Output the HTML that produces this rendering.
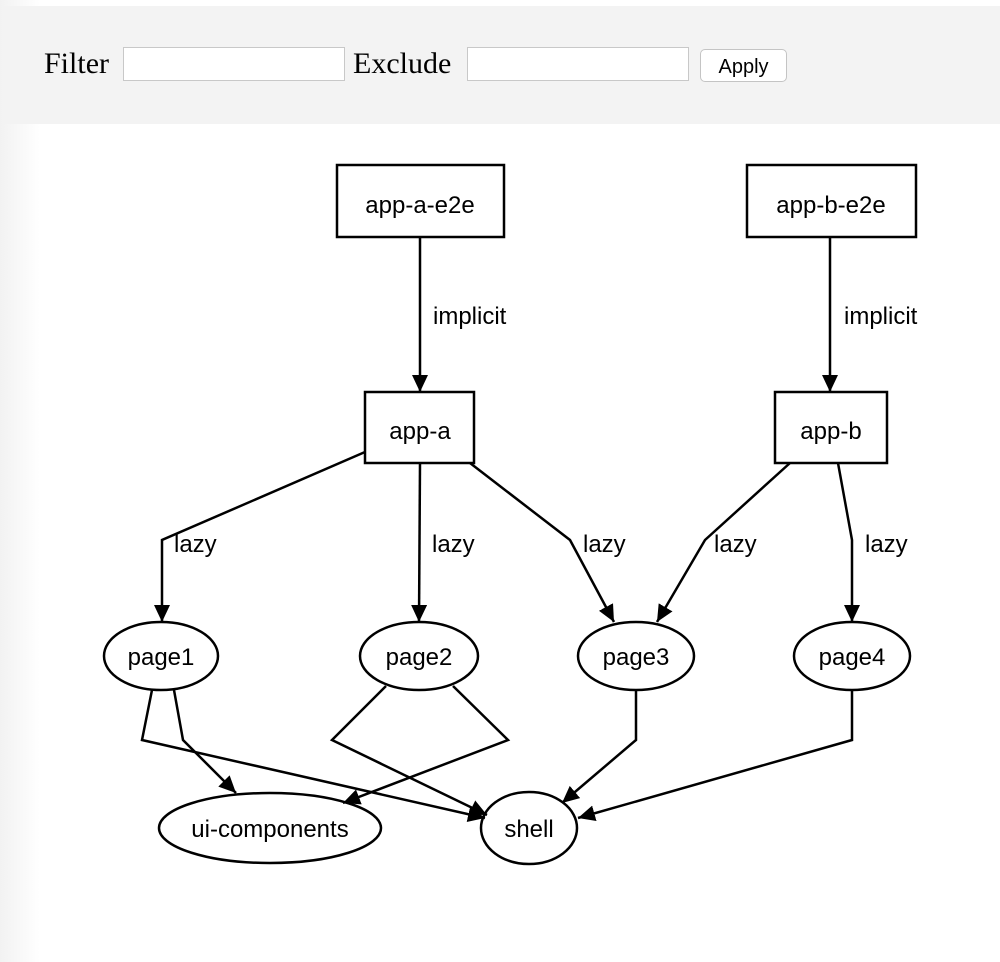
<!DOCTYPE html>
<html><head><meta charset="utf-8"><style>
html,body{margin:0;padding:0;width:1000px;height:962px;overflow:hidden;background:#fff;}
body{position:relative;font-family:"Liberation Serif",serif;}
.lg{position:absolute;left:0;top:0;width:40px;height:962px;background:linear-gradient(to right,#f2f2f2,#fff);}
.bar{position:absolute;left:4px;top:6px;width:996px;height:118px;background:#f3f3f3;}
.t{position:absolute;top:47px;font-size:30px;color:#000;}
.in{position:absolute;top:47px;height:34px;background:#fff;border:1px solid #c8c8c8;box-sizing:border-box;}
.btn{position:absolute;left:700px;top:49px;width:87px;height:33px;box-sizing:border-box;border:1px solid #c4c4c4;border-radius:5px;background:#fff;font-family:"Liberation Sans",sans-serif;font-size:20px;text-align:center;line-height:35px;}
svg{position:absolute;left:0;top:0;}
</style></head><body>
<div class="lg"></div>
<div class="bar"></div>
<div class="t" style="left:44px">Filter</div>
<div class="in" style="left:123px;width:222px"></div>
<div class="t" style="left:353px">Exclude</div>
<div class="in" style="left:467px;width:222px"></div>
<div class="btn">Apply</div>
<svg width="1000" height="962" font-family="Liberation Sans, sans-serif" font-size="24">
<defs><marker id="a" markerUnits="userSpaceOnUse" markerWidth="22" markerHeight="18" refX="17" refY="8" orient="auto"><path d="M0,0 L17,8 L0,16 z" fill="#000"/></marker></defs>
<g fill="none" stroke="#000" stroke-width="2.5">
<rect x="337" y="165" width="167" height="72" fill="#fff"/>
<rect x="747" y="165" width="169" height="72" fill="#fff"/>
<rect x="365" y="392" width="109" height="71" fill="#fff"/>
<rect x="775" y="392" width="112" height="71" fill="#fff"/>
<ellipse cx="161" cy="656" rx="57" ry="34"/>
<ellipse cx="419" cy="656" rx="59" ry="34"/>
<ellipse cx="636" cy="656" rx="58" ry="34"/>
<ellipse cx="852" cy="656" rx="58" ry="34"/>
<ellipse cx="270" cy="828" rx="111" ry="35"/>
<ellipse cx="529" cy="828" rx="48" ry="36"/>
<g marker-end="url(#a)">
<path d="M420,237 L420,392"/>
<path d="M830,237 L830,392"/>
<path d="M365,452 L162,540 L162,622"/>
<path d="M420,463 L419,622"/>
<path d="M470,463 L570,540 L614,622"/>
<path d="M790,463 L705,540 L657,622"/>
<path d="M838,463 L852,540 L852,622"/>
<path d="M174,690 L183,740 L236,793"/>
<path d="M152,690 L142,740 L485,818"/>
<path d="M453,686 L508,740 L343,803"/>
<path d="M386,686 L332,740 L487,815"/>
<path d="M636,690 L636,740 L562,803"/>
<path d="M852,690 L852,740 L578,818"/>
</g></g>
<g fill="#000">
<text x="420" y="213" text-anchor="middle">app-a-e2e</text>
<text x="831" y="213" text-anchor="middle">app-b-e2e</text>
<text x="420" y="439" text-anchor="middle">app-a</text>
<text x="831" y="439" text-anchor="middle">app-b</text>
<text x="161" y="665" text-anchor="middle">page1</text>
<text x="419" y="665" text-anchor="middle">page2</text>
<text x="636" y="665" text-anchor="middle">page3</text>
<text x="852" y="665" text-anchor="middle">page4</text>
<text x="270" y="837" text-anchor="middle">ui-components</text>
<text x="529" y="837" text-anchor="middle">shell</text>
<text x="433" y="324">implicit</text>
<text x="844" y="324">implicit</text>
<text x="174" y="552">lazy</text>
<text x="432" y="552">lazy</text>
<text x="583" y="552">lazy</text>
<text x="714" y="552">lazy</text>
<text x="865" y="552">lazy</text>
</g>
</svg>
</body></html>
